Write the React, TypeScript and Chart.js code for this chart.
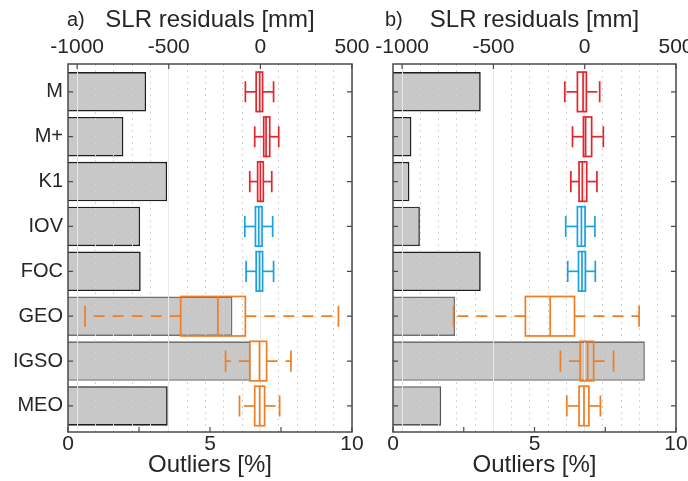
import React, { useEffect, useRef } from 'react';
import { Chart, registerables } from 'chart.js';

Chart.register(...registerables);

// ---------- data ----------
const categories = ['M', 'M+', 'K1', 'IOV', 'FOC', 'GEO', 'IGSO', 'MEO'];

// Outliers [%] (bottom axis, grey bars)
const outliersA = [2.75, 1.95, 3.49, 2.54, 2.56, 5.79, 6.43, 3.51];
const outliersB = [3.1, 0.65, 0.58, 0.95, 3.1, 2.19, 8.9, 1.7];

// SLR residuals [mm] box statistics: [whisker low, Q1, median, Q3, whisker high]
const residualsA = [
  [-82, -23, -4, 12, 72],
  [-31, 18, 31, 51, 100],
  [-58, -15, 0, 16, 62],
  [-85, -27, -9, 9, 67],
  [-78, -23, -5, 12, 72],
  [-957, -435, -232, -82, 426],
  [-190, -58, -5, 34, 167],
  [-114, -31, -4, 23, 105],
];
const residualsB = [
  [-109, -40, -9, 9, 82],
  [-67, -7, 5, 38, 102],
  [-76, -31, -13, 11, 67],
  [-104, -40, -18, 2, 56],
  [-93, -34, -15, 4, 58],
  [-718, -325, -189, -56, 298],
  [-133, -25, 16, 49, 158],
  [-98, -31, -4, 23, 86],
];

// ticks
const outlierTicks = [0, 2.5, 5, 7.5, 10];
const outlierLabels = [0, 5, 10];
const residualGrid = [-1000, -900, -800, -700, -600, -500, -400, -300, -200, -100, 0, 100, 200, 300, 400, 500];
const residualLabels = [-1000, -500, 0, 500];

// ---------- styles ----------
const RED = '#e3252d';
const BLUE = '#18a2e0';
const ORANGE = '#f07d22';
const boxColors = [RED, RED, RED, BLUE, BLUE, ORANGE, ORANGE, ORANGE];
const barBordersA = ['#1e1e1e', '#1e1e1e', '#1e1e1e', '#1e1e1e', '#1e1e1e', '#707070', '#707070', '#1e1e1e'];
const barBordersB = ['#1e1e1e', '#1e1e1e', '#1e1e1e', '#333333', '#1e1e1e', '#707070', '#707070', '#555555'];
const TEXT = '#262626';
const FRAME = '#4a4a4a';
const FONT = '"Liberation Sans", Arial, Helvetica, sans-serif';

type PanelCfg = {
  left: number;
  width: number;
  yWidth: number;
  padRight: number;
  showYLabels: boolean;
  letter: string;
  letterX: number;
  outliers: number[];
  residuals: number[][];
  barBorders: string[];
};

function makeDecor(cfg: PanelCfg) {
  return {
    id: 'decor',
    afterDraw(chart: any) {
      const { ctx, chartArea: ca, scales } = chart;
      const x2 = scales.x2;
      const xs = scales.x;
      const ys = scales.y;
      const unit = Math.abs(ys.getPixelForValue(2) - ys.getPixelForValue(1));
      ctx.save();

      // box plots
      cfg.residuals.forEach((s, i) => {
        const yc = ys.getPixelForValue(i + 1);
        const half = unit * 0.44;
        const capHalf = unit * 0.235;
        const [lo, q1, med, q3, hi] = s.map((v) => x2.getPixelForValue(v));
        ctx.strokeStyle = boxColors[i];
        ctx.lineWidth = 1.7;
        // whiskers (dashed)
        ctx.setLineDash([11, 8]);
        ctx.beginPath();
        ctx.moveTo(q1, yc);
        ctx.lineTo(lo, yc);
        ctx.stroke();
        ctx.beginPath();
        ctx.moveTo(q3, yc);
        ctx.lineTo(hi, yc);
        ctx.stroke();
        ctx.setLineDash([]);
        // caps
        ctx.beginPath();
        ctx.moveTo(lo, yc - capHalf);
        ctx.lineTo(lo, yc + capHalf);
        ctx.moveTo(hi, yc - capHalf);
        ctx.lineTo(hi, yc + capHalf);
        ctx.stroke();
        // box
        ctx.strokeRect(q1, yc - half, q3 - q1, 2 * half);
        // median
        ctx.beginPath();
        ctx.moveTo(med, yc - half);
        ctx.lineTo(med, yc + half);
        ctx.stroke();
      });

      // frame
      ctx.strokeStyle = FRAME;
      ctx.lineWidth = 1.5;
      ctx.strokeRect(ca.left, ca.top, ca.right - ca.left, ca.bottom - ca.top);

      // inner tick marks
      const tl = 5;
      ctx.lineWidth = 1.2;
      ctx.beginPath();
      residualLabels.forEach((v) => {
        const px = x2.getPixelForValue(v);
        ctx.moveTo(px, ca.top);
        ctx.lineTo(px, ca.top + tl);
      });
      outlierTicks.forEach((v) => {
        const px = xs.getPixelForValue(v);
        ctx.moveTo(px, ca.bottom);
        ctx.lineTo(px, ca.bottom - tl);
      });
      categories.forEach((_, i) => {
        const py = ys.getPixelForValue(i + 1);
        ctx.moveTo(ca.left, py);
        ctx.lineTo(ca.left + tl, py);
        ctx.moveTo(ca.right, py);
        ctx.lineTo(ca.right - tl, py);
      });
      ctx.stroke();

      // panel letter
      ctx.fillStyle = TEXT;
      ctx.font = `20px ${FONT}`;
      ctx.textAlign = 'left';
      ctx.textBaseline = 'middle';
      ctx.fillText(cfg.letter, cfg.letterX, 20);
      ctx.restore();
    },
  };
}

function Panel({ cfg }: { cfg: PanelCfg }) {
  const ref = useRef<HTMLCanvasElement>(null);
  useEffect(() => {
    const canvas = ref.current!;
    const isMajor = (v: any) => residualLabels.includes(v);
    const chart = new Chart(canvas, {
      type: 'bar',
      data: {
        datasets: [
          {
            data: cfg.outliers.map((v, i) => ({ x: v, y: i + 1 })) as any,
            xAxisID: 'x',
            yAxisID: 'y',
            backgroundColor: '#c8c8c8',
            borderColor: cfg.barBorders,
            borderWidth: 1.6,
            barPercentage: 0.88,
            categoryPercentage: 1,
          },
        ],
      },
      options: {
        indexAxis: 'y',
        responsive: false,
        animation: false,
        events: [],
        layout: { padding: { left: 0, right: cfg.padRight, top: 0, bottom: 0 } },
        plugins: {
          legend: { display: false },
          tooltip: { enabled: false },
          title: { display: false },
        },
        scales: {
          y: {
            type: 'linear',
            reverse: true,
            offset: false,
            min: 0.38,
            max: 8.58,
            afterBuildTicks: (s: any) => {
              s.ticks = categories.map((_, i) => ({ value: i + 1 }));
            },
            ticks: {
              display: cfg.showYLabels,
              autoSkip: false,
              padding: 5,
              color: TEXT,
              font: { size: 20, family: FONT },
              callback: (v: any) => categories[Number(v) - 1],
            },
            grid: { display: false, drawTicks: false },
            border: { display: false },
            afterFit: (s: any) => {
              s.width = cfg.yWidth;
            },
          },
          x: {
            type: 'linear',
            position: 'bottom',
            min: 0,
            max: 10,
            afterBuildTicks: (s: any) => {
              s.ticks = outlierTicks.map((v) => ({ value: v }));
            },
            ticks: {
              autoSkip: false,
              maxRotation: 0,
              minRotation: 0,
              padding: 0,
              color: TEXT,
              font: { size: 21, family: FONT },
              callback: (v: any) => (outlierLabels.includes(Number(v)) ? String(v) : ''),
            },
            grid: { display: false, drawTicks: false },
            border: { display: false },
            title: {
              display: true,
              text: 'Outliers [%]',
              color: TEXT,
              font: { size: 24, family: FONT },
              padding: { top: 0, bottom: 1 },
            },
            afterFit: (s: any) => {
              s.height = 49;
              s.paddingLeft = 0;
              s.paddingRight = 0;
            },
          },
          x2: {
            type: 'linear',
            position: 'top',
            min: -1050,
            max: 500,
            afterBuildTicks: (s: any) => {
              s.ticks = residualGrid.map((v) => ({ value: v }));
            },
            ticks: {
              autoSkip: false,
              maxRotation: 0,
              minRotation: 0,
              padding: 4,
              color: TEXT,
              font: { size: 21, family: FONT },
              callback: (v: any) => (isMajor(Number(v)) ? String(v) : ''),
            },
            grid: {
              z: 1,
              drawTicks: false,
              lineWidth: 1,
              color: (c: any) => (isMajor(c.tick && c.tick.value) ? '#e8e8e8' : '#d2d2d2'),
            },
            border: {
              display: false,
              dash: (c: any) => (isMajor(c.tick && c.tick.value) ? [] : [2, 4]),
            },
            title: {
              display: true,
              text: 'SLR residuals [mm]',
              color: TEXT,
              font: { size: 24, family: FONT },
              padding: { top: 6, bottom: 0 },
            },
            afterFit: (s: any) => {
              s.height = 64;
              s.paddingLeft = 0;
              s.paddingRight = 0;
            },
          },
        },
      } as any,
      plugins: [makeDecor(cfg)],
    });
    return () => chart.destroy();
  }, [cfg]);
  return (
    <canvas
      ref={ref}
      width={cfg.width}
      height={481}
      style={{ position: 'absolute', left: cfg.left, top: 0, width: cfg.width, height: 481 }}
    />
  );
}

const panelA: PanelCfg = {
  left: 0,
  width: 372,
  yWidth: 68,
  padRight: 20,
  showYLabels: true,
  letter: 'a)',
  letterX: 67,
  outliers: outliersA,
  residuals: residualsA,
  barBorders: barBordersA,
};

const panelB: PanelCfg = {
  left: 364,
  width: 324,
  yWidth: 29,
  padRight: 12,
  showYLabels: false,
  letter: 'b)',
  letterX: 21,
  outliers: outliersB,
  residuals: residualsB,
  barBorders: barBordersB,
};

export default function App() {
  return (
    <div
      style={{
        position: 'absolute',
        left: 0,
        top: 0,
        width: 688,
        height: 481,
        background: '#ffffff',
        overflow: 'hidden',
      }}
    >
      <Panel cfg={panelA} />
      <Panel cfg={panelB} />
    </div>
  );
}
